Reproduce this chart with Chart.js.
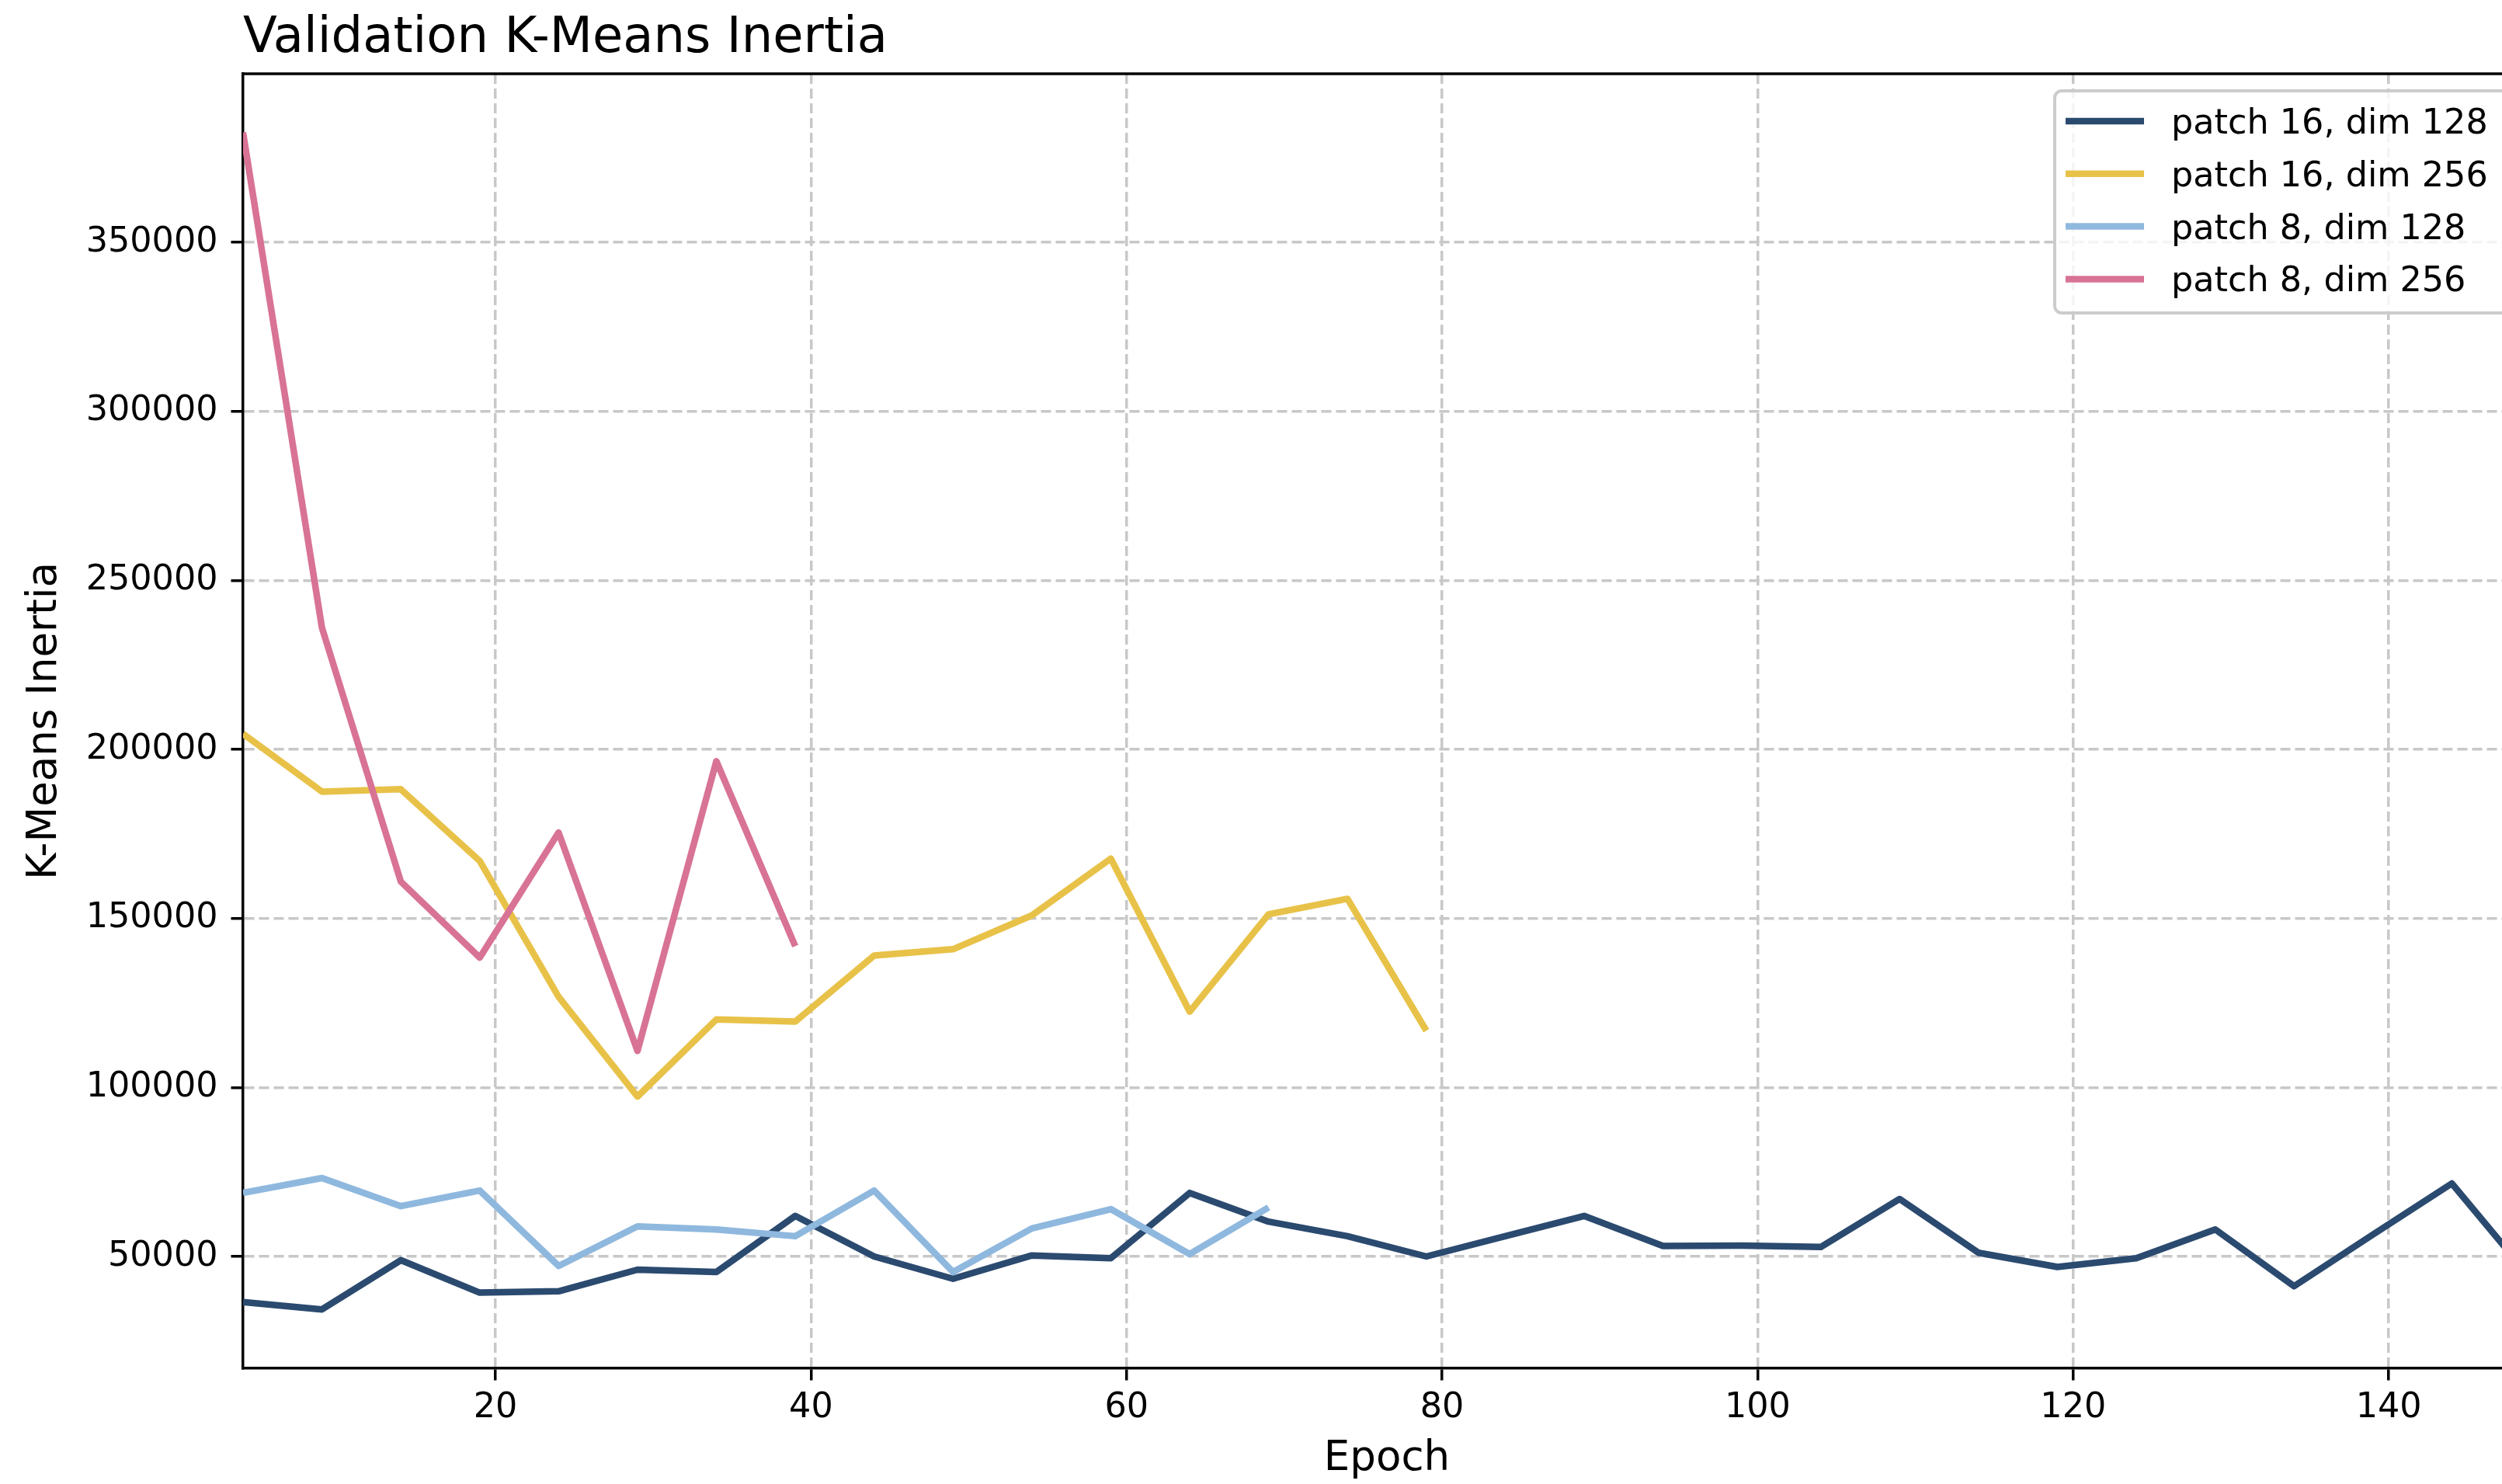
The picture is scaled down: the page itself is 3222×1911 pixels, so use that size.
<!DOCTYPE html>
<html lang="en">
<head>
  <meta charset="UTF-8">
  <title>Validation K-Means Inertia</title>
  <script src="https://cdn.jsdelivr.net/npm/chart.js"></script>
  <style>
    html, body { margin: 0; padding: 0; background: #fff; overflow: hidden; }
    canvas { display: block; }
  </style>
</head>
<body>
  <canvas id="inertiaChart" width="3260" height="1911"></canvas>

  <script>
    // epochs where validation was run (every 5 epochs)
    const epochs = [4, 9, 14, 19, 24, 29, 34, 39, 44, 49, 54, 59, 64, 69, 74,
                    79, 84, 89, 94, 99, 104, 109, 114, 119, 124, 129, 134, 139, 144, 149];

    const patch16dim128 = [36500, 34330, 48900, 39300, 39700, 46100, 45400, 62000, 50000, 43400,
                           50300, 49500, 68800, 60300, 56000, 50000, 56000, 62000, 53100, 53200,
                           52800, 67000, 51100, 46900, 49500, 58000, 41200, 56500, 71600, 43600];
    const patch16dim256 = [204600, 187500, 188200, 167000, 126800, 97300, 120100, 119500,
                           139000, 140900, 150900, 167700, 122400, 151200, 155800, 116800];
    const patch8dim128 = [68800, 73200, 64900, 69500, 47200, 58900, 58000, 56000,
                          69500, 45400, 58300, 64000, 50700, 64500];
    const patch8dim256 = [382440, 236000, 160900, 138400, 175400, 110800, 196500, 141800];

    const seriesLabels = ['patch 16, dim 128', 'patch 16, dim 256', 'patch 8, dim 128', 'patch 8, dim 256'];
    const seriesColors = ['#2b4a6f', '#e8c248', '#8fb8de', '#d87395'];

    const xTicks = [20, 40, 60, 80, 100, 120, 140];
    const yTicks = [50000, 100000, 150000, 200000, 250000, 300000, 350000];
    const xMin = 4, xMax = 149;
    const yMin = 16922, yMax = 399847;

    const FONT = 'DejaVu Sans';
    Chart.defaults.font.family = FONT;
    Chart.defaults.color = '#000';

    const allSeries = [patch16dim128, patch16dim256, patch8dim128, patch8dim256];
    const datasets = allSeries.map((vals, i) => ({
      label: seriesLabels[i],
      data: vals.map((v, j) => ({ x: epochs[j], y: v })),
      borderColor: seriesColors[i],
      borderWidth: 8.5,
      borderJoinStyle: 'round',
      pointRadius: 0,
      tension: 0,
      fill: false,
      clip: 0,
      order: allSeries.length - i
    }));

    // title, top spine and the boxed legend inside the axes
    const decorations = {
      id: 'decorations',
      afterDatasetsDraw(chart) {
        const { ctx, chartArea } = chart;
        ctx.save();

        ctx.strokeStyle = '#000';
        ctx.lineWidth = 3.5;
        ctx.beginPath();
        ctx.moveTo(chartArea.left, chartArea.top);
        ctx.lineTo(chartArea.right, chartArea.top);
        ctx.lineTo(chartArea.right, chartArea.bottom);
        ctx.stroke();

        const w = 591, h = 286, pad = 22, r = 9;
        const x0 = chartArea.right - pad - w;
        const y0 = chartArea.top + pad;
        ctx.beginPath();
        ctx.roundRect(x0, y0, w, h, r);
        ctx.fillStyle = 'rgba(255,255,255,0.8)';
        ctx.fill();
        ctx.strokeStyle = '#cccccc';
        ctx.lineWidth = 4;
        ctx.stroke();

        ctx.font = '44.5px "' + FONT + '"';
        ctx.textAlign = 'left';
        ctx.textBaseline = 'alphabetic';
        chart.data.datasets.forEach((ds, i) => {
          const y = y0 + 39 + i * 67.8;
          ctx.strokeStyle = ds.borderColor;
          ctx.lineWidth = 8.5;
          ctx.beginPath();
          ctx.moveTo(x0 + 14, y);
          ctx.lineTo(x0 + 115, y);
          ctx.stroke();
          ctx.fillStyle = '#000';
          ctx.fillText(ds.label, x0 + 150, y + 16);
        });

        ctx.font = '64px "' + FONT + '"';
        ctx.fillStyle = '#000';
        ctx.fillText('Validation K-Means Inertia', chartArea.left, 67);
        ctx.restore();
      }
    };

    new Chart(document.getElementById('inertiaChart'), {
      type: 'line',
      data: { datasets: datasets },
      plugins: [decorations],
      options: {
        responsive: false,
        devicePixelRatio: 1,
        animation: false,
        layout: { padding: { top: 95, right: 1, left: 0, bottom: 0 } },
        plugins: { legend: { display: false }, tooltip: { enabled: false } },
        scales: {
          x: {
            type: 'linear',
            min: xMin,
            max: xMax,
            afterBuildTicks: scale => { scale.ticks = xTicks.map(v => ({ value: v })); },
            afterFit: scale => { scale.height = 149; },
            ticks: {
              font: { size: 44.5 },
              color: '#000',
              padding: 9,
              maxRotation: 0,
              callback: v => String(v)
            },
            grid: {
              color: '#c8c8c8',
              lineWidth: 3.5,
              tickColor: '#000',
              tickWidth: 3.5,
              tickLength: 15.5
            },
            border: { display: true, color: '#000', width: 3.5, dash: [13, 6] },
            title: {
              display: true,
              text: 'Epoch',
              font: { size: 53, lineHeight: 1.2 },
              color: '#000',
              padding: { top: 0, bottom: 0 }
            }
          },
          y: {
            type: 'linear',
            min: yMin,
            max: yMax,
            afterBuildTicks: scale => { scale.ticks = yTicks.map(v => ({ value: v })); },
            afterFit: scale => { scale.width = 313; },
            ticks: {
              font: { size: 44.5 },
              color: '#000',
              padding: 17,
              callback: v => String(v)
            },
            grid: {
              color: '#c8c8c8',
              lineWidth: 3.5,
              tickColor: '#000',
              tickWidth: 3.5,
              tickLength: 15.5
            },
            border: { display: true, color: '#000', width: 3.5, dash: [13, 6] },
            title: {
              display: true,
              text: 'K-Means Inertia',
              font: { size: 53, lineHeight: 1.2 },
              color: '#000',
              padding: { top: 26, bottom: 0 }
            }
          }
        }
      }
    });
  </script>
</body>
</html>
